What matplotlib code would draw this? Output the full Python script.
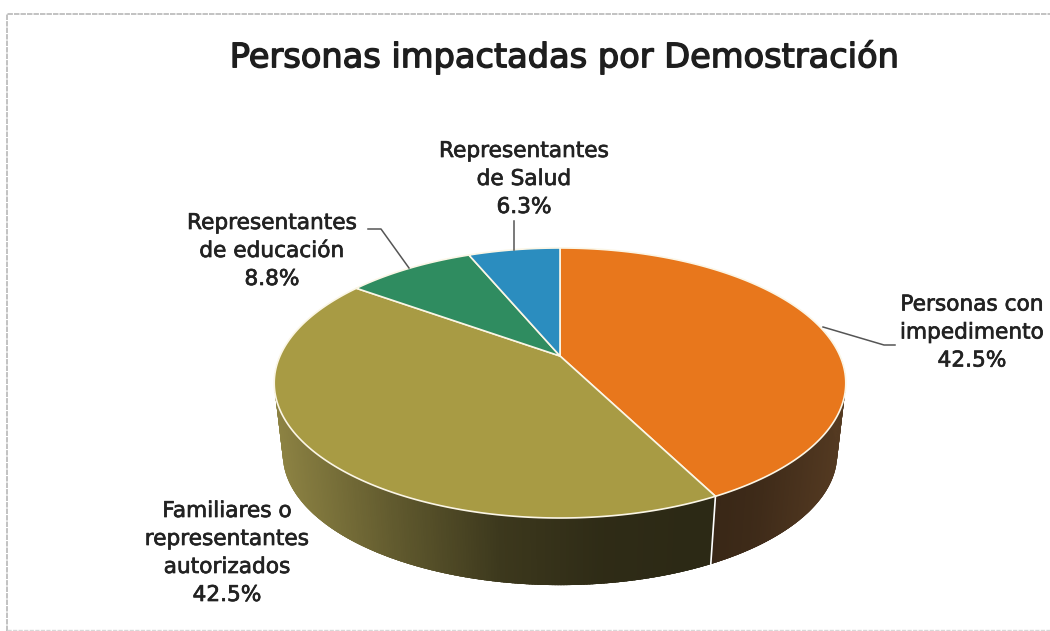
import numpy as np
import matplotlib
matplotlib.use("Agg")
import matplotlib.pyplot as plt
import matplotlib.patheffects as pe

title = "Personas impactadas por Demostración"
categories = ["Personas con\nimpedimento", "Familiares o\nrepresentantes\nautorizados",
              "Representantes\nde educación", "Representantes\nde Salud"]
values = [42.5, 42.5, 8.8, 6.3]
colors = ["#E8771C", "#A89B44", "#2F8C60", "#2B8DBF"]

# label anchor positions in pixels
label_xy = [(972, 332.5), (227, 553), (272, 251), (524, 179)]
leaders = [[(823, 327), (884, 345), (895, 345)],
           [],
           [(409, 268), (381, 229), (368, 229)],
           [(514, 250), (514, 221)]]

# pie projection
CX, CY = 560.0, 356.0
A, B, K = 129.6, 280.0, 0.2
S, D = 0.97, 72.0


def proj(theta):
    X, Y = np.cos(theta), np.sin(theta)
    w = 1 + K * Y
    return CX + B * X / w, CY - A * Y / w


def proj_low(theta):
    x, y = proj(theta)
    return CX + (x - CX) * S, CY + (y - CY) * S + D


def shade(color, f):
    rgb = np.array(matplotlib.colors.to_rgb(color))
    return tuple(rgb * f)


fig = plt.figure(figsize=(10.5, 6.31), dpi=100)
ax = fig.add_axes([0, 0, 1, 1])
ax.set_xlim(0, 1050)
ax.set_ylim(631, 0)
ax.axis("off")

plt.rcParams["font.family"] = "DejaVu Sans"

# slice limits, clockwise from top
fr = np.array(values) / sum(values)
edges = np.pi / 2 - 2 * np.pi * np.concatenate([[0], np.cumsum(fr)])

# walls: front half only, brightness depends on the screen position
shade_x = [270, 330, 400, 500, 600, 700, 712, 760, 845]
shade_f = [[0.85, 0.72, 0.56, 0.36, 0.28, 0.26, 0.26, 0.26, 0.26],
           [0.30, 0.30, 0.30, 0.30, 0.30, 0.28, 0.28, 0.31, 0.42]]
wall_a = -np.pi + np.arange(0, 401) * (np.pi * 1.08 / 400) - 0.04
step = wall_a[1] - wall_a[0]
for a0 in wall_a[:-1]:
    a1 = a0 + step
    mid = (a0 + a1) / 2
    ang = (np.pi / 2 - mid) % (2 * np.pi)
    idx = min(np.searchsorted(np.cumsum(fr) * 2 * np.pi, ang), len(values) - 1)
    xm, _ = proj(np.array(mid))
    row = 1 if idx == 0 else 0
    f = np.interp(xm, shade_x, shade_f[row])
    base = "#A89C50" if idx == 1 else "#C98A50"
    x0, y0 = proj(np.array(a0))
    x1, y1 = proj(np.array(a1 + 2.5 * step))
    x2, y2 = proj_low(np.array(a1 + 2.5 * step))
    x3, y3 = proj_low(np.array(a0))
    ax.fill([x0, x1, x2, x3], [y0, y1, y2, y3], facecolor=shade(base, f), edgecolor="none", zorder=1)

# seam on the wall
sx0, sy0 = proj(edges[1])
sx1, sy1 = proj_low(edges[1])
ax.plot([sx0, sx1], [sy0, sy1], color="white", lw=1.2, zorder=2)

# top face
for i, c in enumerate(colors):
    th = np.linspace(edges[i], edges[i + 1], 200)
    px, py = proj(th)
    ax.fill(np.r_[CX, px], np.r_[CY, py], facecolor=c, edgecolor="#FBF6E6", lw=1.2,
            joinstyle="round", zorder=3)

for (x, y), cat, v, pts in zip(label_xy, categories, values, leaders):
    ax.text(x, y, f"{cat}\n{v:.1f}%", ha="center", va="center", fontsize=15.6,
            color="#222222", linespacing=1.5, zorder=5,
            path_effects=[pe.withStroke(linewidth=0.5, foreground="#222222")])
    if pts:
        ax.plot(*zip(*pts), color="#555555", lw=1.1, zorder=4)

ax.text(564, 57, title, ha="center", va="center", fontsize=24.2, color="#1E1E1E", zorder=5,
        path_effects=[pe.withStroke(linewidth=1.0, foreground="#1E1E1E")])

# scanned frame
ax.plot([7, 7, 1050], [631, 14, 14], color="#BDBDBD", lw=1.3, ls=(0, (3, 0.6)), zorder=0)
ax.plot([7, 1050], [630, 630], color="#D8D8D8", lw=1.0, ls=(0, (3, 1)), zorder=0)

fig.savefig("out.png", dpi=100)
